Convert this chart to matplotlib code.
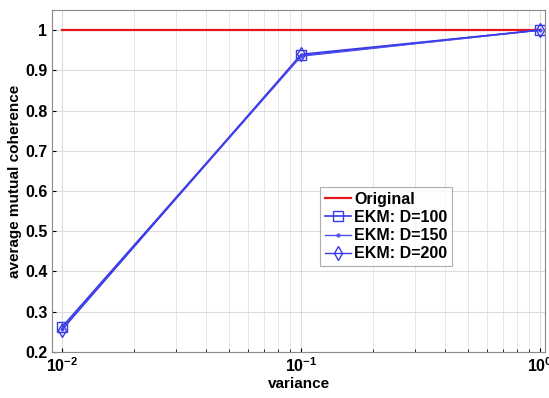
import matplotlib
matplotlib.use("Agg")
import matplotlib.pyplot as plt
from matplotlib.ticker import FixedLocator, FixedFormatter

plt.rcParams['font.family'] = ['Liberation Sans', 'DejaVu Sans']
plt.rcParams['font.weight'] = 'bold'
plt.rcParams['mathtext.fontset'] = 'custom'
plt.rcParams['mathtext.rm'] = 'Liberation Sans:bold'
plt.rcParams['mathtext.bf'] = 'Liberation Sans:bold'
plt.rcParams['mathtext.default'] = 'bf'

variance = [0.01, 0.1, 1.0]
original = [1.0, 1.0, 1.0]
ekm_100 = [0.262, 0.937, 1.0]
ekm_150 = [0.258, 0.935, 1.0]
ekm_200 = [0.255, 0.940, 1.0]
xtick_labels = [r'$10^{-2}$', r'$10^{-1}$', r'$10^{0}$']

fig = plt.figure(figsize=(5.49, 3.98), dpi=100)
ax = fig.add_axes([0.095, 0.116, 0.898, 0.859])

ax.plot(variance, original, color='#e8141c', lw=1.6, label='Original')
ax.plot(variance, ekm_100, color='#3a3ae8', lw=1.2, marker='s', ms=7, mfc='none', mew=1.0, label='EKM: D=100')
ax.plot(variance, ekm_150, color='#5050f0', lw=1.0, marker='.', ms=4, label='EKM: D=150')
ax.plot(variance, ekm_200, color='#3a3ae8', lw=1.0, marker='d', ms=7, mfc='none', mew=1.0, label='EKM: D=200')

ax.set_xscale('log')
ax.set_xlim(10**-2.042, 10**0.021)
ax.set_ylim(0.2, 1.05)
ax.xaxis.set_major_locator(FixedLocator(variance))
ax.xaxis.set_major_formatter(FixedFormatter(xtick_labels))
ax.set_yticks([0.2, 0.3, 0.4, 0.5, 0.6, 0.7, 0.8, 0.9, 1.0])
ax.set_yticklabels(['0.2', '0.3', '0.4', '0.5', '0.6', '0.7', '0.8', '0.9', '1'])
ax.grid(True, which='major', color='#dcdcdc', lw=0.8)
ax.grid(True, which='minor', axis='x', color='#e6e6e6', lw=0.7)
ax.tick_params(axis='both', labelsize=11.5, direction='in', length=3)
ax.tick_params(which='minor', direction='in', length=2)
for s in ax.spines.values():
    s.set_color('#888888')

ax.set_xlabel('variance', fontsize=11, fontweight='bold', labelpad=1)
ax.set_ylabel('average mutual coherence', fontsize=11, fontweight='bold', labelpad=2)

leg = ax.legend(loc='upper left', bbox_to_anchor=(0.544, 0.482), fontsize=11.5,
                frameon=True, fancybox=False, handlelength=1.6, handletextpad=0.2,
                borderpad=0.3, labelspacing=0.2, borderaxespad=0)
leg.get_frame().set_edgecolor('#999999')
leg.get_frame().set_linewidth(0.8)

fig.savefig('out.png', dpi=100)
